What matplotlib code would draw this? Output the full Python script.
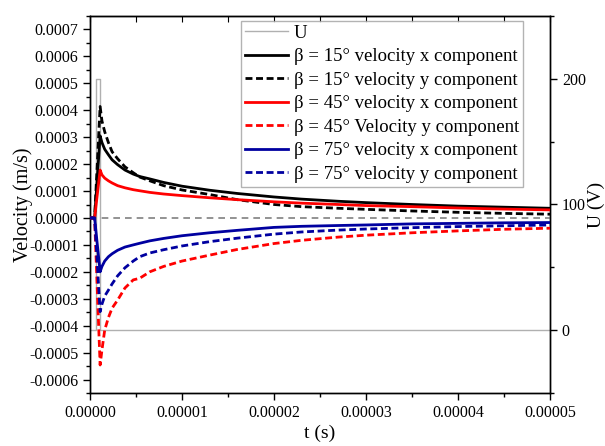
import matplotlib
matplotlib.use("Agg")
import matplotlib.pyplot as plt
from matplotlib.ticker import MultipleLocator, FuncFormatter
import numpy as np

plt.rcParams['font.family'] = ['Liberation Serif', 'DejaVu Serif']
plt.rcParams['mathtext.fontset'] = 'stix'

# time samples in microseconds
t_us = [0, 0.5, 1.1, 1.3, 1.6, 2.0, 2.4, 3.0, 3.8, 4.7, 5.4, 6.5, 8, 10, 13, 16, 20, 23, 27, 30, 35, 40, 45, 50]

# velocities in units of 1e-4 m/s
b15_x = [0, 0, 3.05, 2.80, 2.55, 2.35, 2.16, 1.98, 1.78, 1.63, 1.54, 1.45, 1.32, 1.18, 1.03, 0.91, 0.78, 0.70, 0.62, 0.57, 0.50, 0.44, 0.40, 0.36]
b15_y = [0, 0, 4.14, 3.60, 3.20, 2.80, 2.46, 2.20, 1.90, 1.68, 1.52, 1.38, 1.20, 1.04, 0.87, 0.68, 0.50, 0.42, 0.36, 0.32, 0.26, 0.21, 0.17, 0.14]
b45_x = [0, 0, 1.78, 1.60, 1.48, 1.38, 1.30, 1.20, 1.12, 1.05, 1.01, 0.95, 0.89, 0.83, 0.75, 0.68, 0.60, 0.55, 0.50, 0.46, 0.42, 0.37, 0.33, 0.30]
b45_y = [0, 0, -5.46, -4.90, -4.16, -3.70, -3.35, -3.05, -2.60, -2.30, -2.24, -2.00, -1.80, -1.60, -1.38, -1.17, -0.95, -0.83, -0.71, -0.64, -0.55, -0.48, -0.42, -0.38]
b75_x = [0, 0, -2.00, -1.80, -1.60, -1.44, -1.33, -1.20, -1.08, -1.00, -0.94, -0.85, -0.76, -0.66, -0.55, -0.46, -0.35, -0.31, -0.28, -0.26, -0.22, -0.20, -0.18, -0.17]
b75_y = [0, 0, -3.48, -3.20, -2.90, -2.68, -2.45, -2.15, -1.85, -1.60, -1.44, -1.30, -1.18, -1.04, -0.88, -0.75, -0.60, -0.52, -0.45, -0.41, -0.36, -0.32, -0.29, -0.26]

# applied voltage pulse
tU_us = [0, 0.6, 0.6, 1.1, 1.1, 50]
U_V = [0, 0, 200, 200, 0, 0]

labels = ["β = 15° velocity x component", "β = 15° velocity y component",
          "β = 45° velocity x component", "β = 45° Velocity y component",
          "β = 75° velocity x component", "β = 75° velocity y component"]

t = np.array(t_us) * 1e-6
tU = np.array(tU_us) * 1e-6

fig = plt.figure(figsize=(6.05, 4.46), dpi=100)
ax = fig.add_axes([90/605, 53/446, 460/605, 377/446])
ax2 = ax.twinx()

ax.axhline(0, color='#808080', lw=1.2, dashes=(4, 3), zorder=1)

uline, = ax2.plot(tU, U_V, color='#b0b0b0', lw=1.0, label='U')

series = [(b15_x, 'black', '-'), (b15_y, 'black', '--'),
          (b45_x, '#ff0000', '-'), (b45_y, '#ff0000', '--'),
          (b75_x, '#0000a0', '-'), (b75_y, '#0000a0', '--')]
handles = [uline]
for (vals, col, ls), lab in zip(series, labels):
    v = np.array(vals) * 1e-4
    if ls == '--':
        h, = ax.plot(t, v, color=col, lw=2.0, dashes=(2.5, 1.3), label=lab, zorder=3)
    else:
        h, = ax.plot(t, v, color=col, lw=2.0, label=lab, zorder=3)
    handles.append(h)

ax.set_zorder(ax2.get_zorder() + 1)
ax.patch.set_visible(False)

ax.set_xlim(0, 5e-5)
ax.set_ylim(-0.00065, 0.00075)
ax2.set_ylim(-50, 250)

ax.xaxis.set_major_locator(MultipleLocator(1e-5))
ax.xaxis.set_minor_locator(MultipleLocator(5e-6))
ax.yaxis.set_major_locator(MultipleLocator(1e-4))
ax.yaxis.set_minor_locator(MultipleLocator(5e-5))
ax2.yaxis.set_major_locator(MultipleLocator(100))
ax2.yaxis.set_minor_locator(MultipleLocator(50))

ax.xaxis.set_major_formatter(FuncFormatter(lambda x, p: '%.5f' % (round(x, 10) + 0.0)))
ax.yaxis.set_major_formatter(FuncFormatter(lambda y, p: '%.4f' % (round(y, 10) + 0.0)))
ax2.yaxis.set_major_formatter(FuncFormatter(lambda y, p: '%d' % round(y)))

fs = 11.5
ax.tick_params(which='both', direction='out', labelsize=fs, width=1)
ax.tick_params(which='major', length=5)
ax.tick_params(which='minor', length=3)
ax2.tick_params(which='both', direction='out', labelsize=fs, width=1)
ax2.tick_params(which='major', length=5)
ax2.tick_params(which='minor', length=3)

sec = ax.secondary_xaxis('top')
sec.xaxis.set_major_locator(MultipleLocator(5e-6))
sec.tick_params(direction='in', length=4, labeltop=False)

for a in (ax, ax2):
    for s in a.spines.values():
        s.set_linewidth(1.0)

ax.set_xlabel('t (s)', fontsize=14, labelpad=3)
ax.set_ylabel('Velocity (m/s)', fontsize=14.5, labelpad=-3)
ax2.set_ylabel('U (V)', fontsize=14, labelpad=1)

leg = ax.legend(handles=handles, labels=['U'] + labels, loc='upper left',
                bbox_to_anchor=(241/605, 1 - 21/446), bbox_transform=fig.transFigure,
                borderaxespad=0, fontsize=13.5, frameon=True, fancybox=False,
                edgecolor='#a0a0a0', handlelength=2.3, handletextpad=0.3,
                labelspacing=0.34, borderpad=0.2)
leg.get_frame().set_linewidth(1.0)

fig.savefig('out.png', dpi=100)
